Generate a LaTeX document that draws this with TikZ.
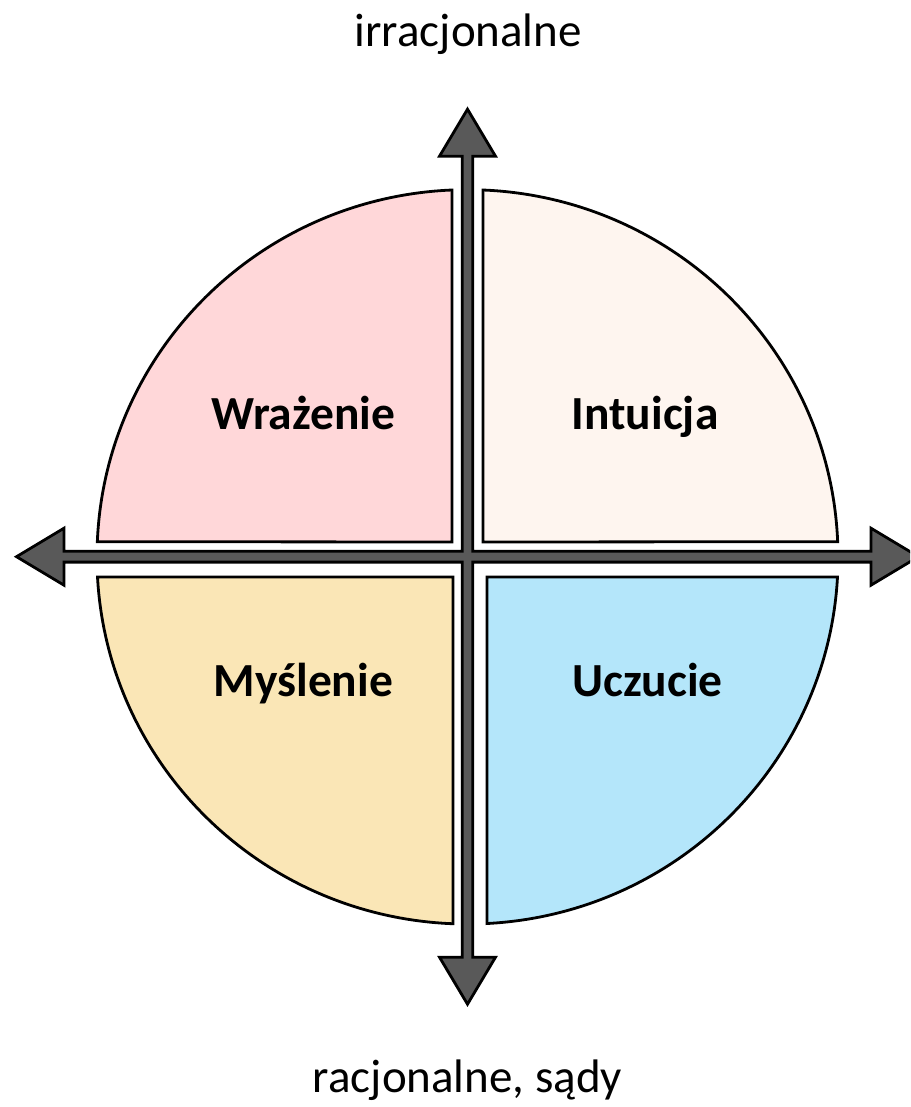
\documentclass[tikz,border=0pt]{standalone}
\usepackage{fontspec}
\setmainfont{Carlito}
\usepackage{tikz}
\usetikzlibrary{positioning}
\definecolor{senscol}{RGB}{255, 215, 217}
\definecolor{intcol}{RGB}{254, 245, 239}
\definecolor{thinkcol}{RGB}{250, 230, 182}
\definecolor{feelcol}{RGB}{180, 230, 250}
\definecolor{axiscol}{RGB}{89, 89, 89}
\tikzstyle{quad} = [draw=black, line width=2.8pt, line join=miter]
\tikzstyle{axis} = [draw=black, fill=axiscol, line width=2.8pt, line join=miter]
\tikzstyle{fname} = [anchor=base, font=\bfseries\fontsize{47.5}{47.5}\selectfont, text=black]
\tikzstyle{pole} = [anchor=base, font=\fontsize{47}{47}\selectfont, text=black]

\begin{document}
\begin{tikzpicture}[x=1pt, y=-1pt]

\useasboundingbox (0,0) rectangle (910,1107);
\clip (0,0) rectangle (910,1107);

% quadrants =============================

% upper left
\draw[quad, fill=senscol] (452,542) -- (452,190)
  arc[start angle=267.6, end angle=182.34, x radius=370.5, y radius=367] -- cycle;
% upper right
\draw[quad, fill=intcol] (483,542) -- (483,190)
  arc[start angle=272.4, end angle=357.66, x radius=370.5, y radius=367] -- cycle;
% lower left
\draw[quad, fill=thinkcol] (453,577) -- (97.5,577)
  arc[start angle=176.88, end angle=92.24, x radius=370.5, y radius=367] -- cycle;
% lower right
\draw[quad, fill=feelcol] (487,577) -- (837.5,577)
  arc[start angle=3.12, end angle=86.98, x radius=370.5, y radius=367] -- cycle;

% axes =============================
\coordinate (c) at (467.5,556.7);
\begin{scope}[shift={(c)}]
\draw[axis] (0,-447.5) -- (28,-400.5) -- (5.3,-400.5) -- (5.3,-5.4)
  -- (403.5,-5.4) -- (403.5,-28.5) -- (451,0) -- (403.5,28.5) -- (403.5,5.4)
  -- (5.3,5.4) -- (5.3,400.5) -- (28,400.5) -- (0,447.5) -- (-28,400.5) -- (-5.3,400.5)
  -- (-5.3,5.4) -- (-403.5,5.4) -- (-403.5,28.5) -- (-451,0) -- (-403.5,-28.5) -- (-403.5,-5.4)
  -- (-5.3,-5.4) -- (-5.3,-400.5) -- (-28,-400.5) -- cycle;
\end{scope}

% labels =============================
\node[fname] (sens) at (303.3,429) {Wrażenie};
\node[fname] (intu) at (645,429) {Intuicja};
\node[fname] (think) at (303.3,696.7) {Myślenie};
\node[fname] (feel) at (647.5,696.7) {Uczucie};

\node[pole] (irr) at (468.3,46.7) {irracjonalne};
\node[pole] (rac) at (467.5,1092) {racjonalne, sądy};

\end{tikzpicture}
\end{document}
